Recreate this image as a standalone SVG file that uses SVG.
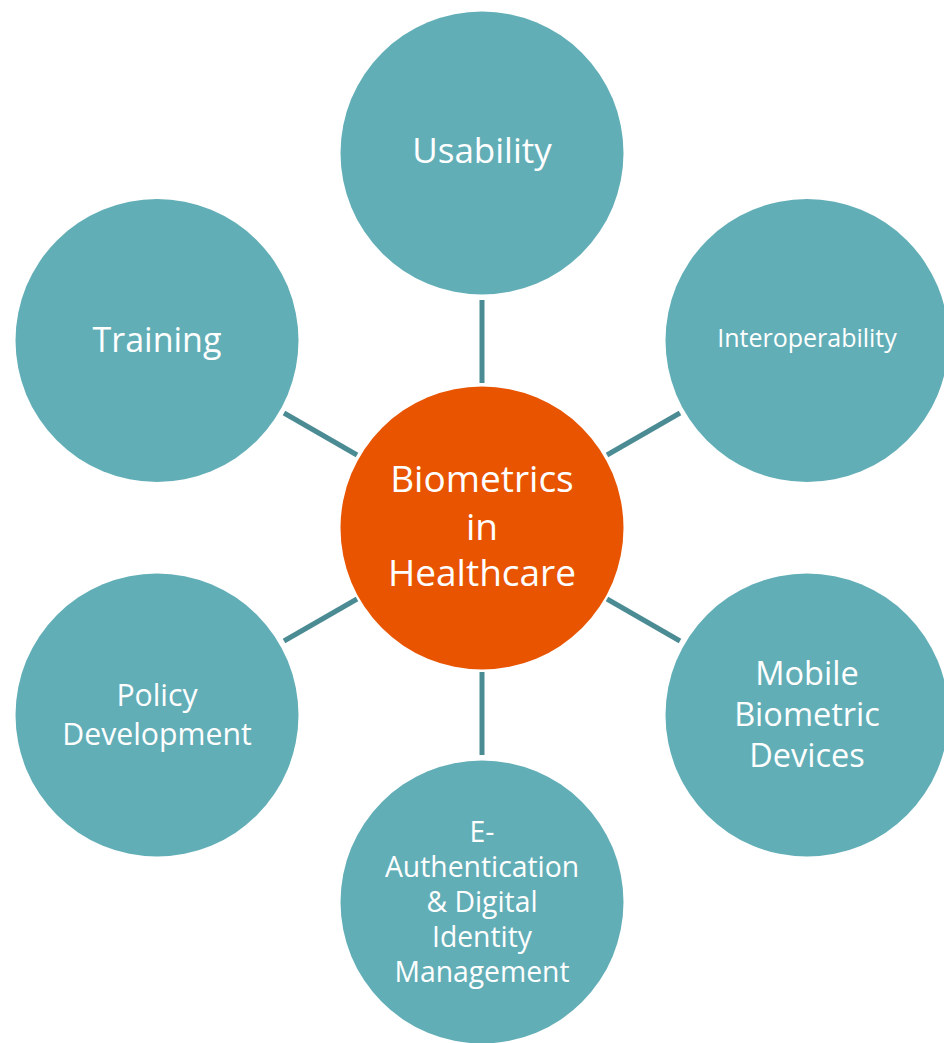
<svg xmlns="http://www.w3.org/2000/svg" width="944" height="1043" viewBox="0 0 944 1043">
  <style>
    .spoke { fill: #62aeb7; }
    .hub { fill: #e85400; }
    .link { stroke: #4b8b93; stroke-width: 5; fill: none; }
    text { font-family: "Open Sans", "Noto Sans", sans-serif; fill: #ffffff; text-anchor: middle; }
    .lg { font-size: 34px; }
    .hb { font-size: 37px; }
    .pd { font-size: 30.2px; }
    .md { font-size: 32.5px; }
    .sm { font-size: 28.3px; }
    .xs { font-size: 25px; }
  </style>
  <rect width="944" height="1043" fill="#ffffff"/>

  <!-- connectors between hub and satellites -->
  <g id="connectors">
    <line class="link" x1="482" y1="300" x2="482" y2="383"/>
    <line class="link" x1="284" y1="413" x2="357" y2="455"/>
    <line class="link" x1="680" y1="413" x2="607" y2="455"/>
    <line class="link" x1="284" y1="641" x2="357" y2="599"/>
    <line class="link" x1="680" y1="641" x2="607" y2="599"/>
    <line class="link" x1="482" y1="672" x2="482" y2="755"/>
  </g>

  <g id="usability">
    <circle class="spoke" cx="482" cy="153" r="141.5"/>
    <text class="lg" x="482" y="163" style="font-size:35px">Usability</text>
  </g>

  <g id="training">
    <circle class="spoke" cx="157" cy="340.5" r="141.5"/>
    <text class="lg" x="157" y="352">Training</text>
  </g>

  <g id="interoperability">
    <circle class="spoke" cx="807" cy="340.5" r="141.5"/>
    <text class="xs" x="807" y="347">Interoperability</text>
  </g>

  <g id="hub">
    <circle class="hub" cx="482" cy="528" r="141.5"/>
    <text class="hb" x="482" y="492">Biometrics</text>
    <text class="hb" x="482" y="540">in</text>
    <text class="hb" x="482" y="586">Healthcare</text>
  </g>

  <g id="policy">
    <circle class="spoke" cx="157" cy="715" r="141.5"/>
    <text class="pd" x="157" y="706">Policy</text>
    <text class="pd" x="157" y="745">Development</text>
  </g>

  <g id="mobile">
    <circle class="spoke" cx="807" cy="715" r="141.5"/>
    <text class="md" x="807" y="685">Mobile</text>
    <text class="md" x="807" y="726">Biometric</text>
    <text class="md" x="807" y="767">Devices</text>
  </g>

  <g id="eauth">
    <circle class="spoke" cx="482" cy="902" r="141.5"/>
    <text class="sm" x="482" y="842">E-</text>
    <text class="sm" x="482" y="877">Authentication</text>
    <text class="sm" x="482" y="912">&amp; Digital</text>
    <text class="sm" x="482" y="947">Identity</text>
    <text class="sm" x="482" y="982">Management</text>
  </g>
</svg>
